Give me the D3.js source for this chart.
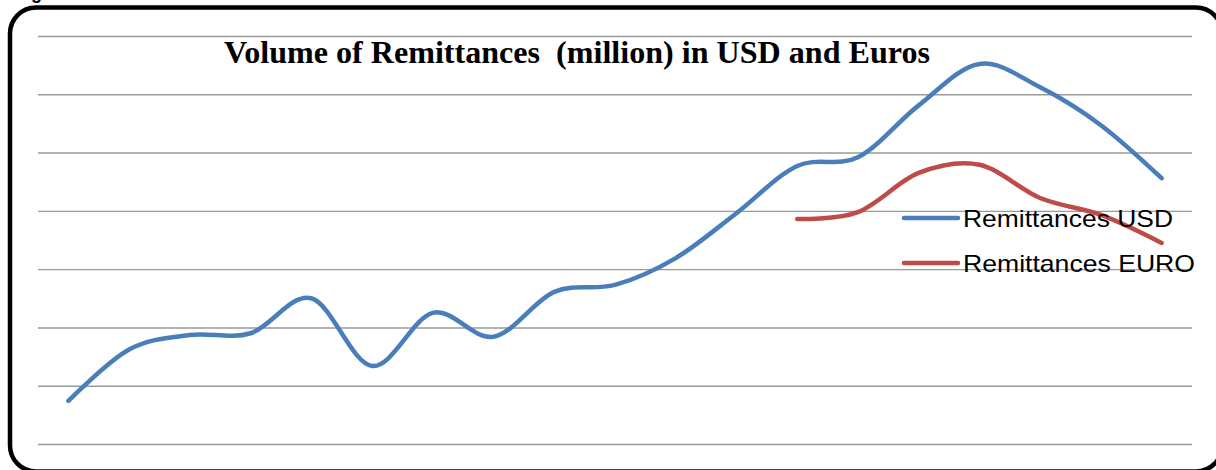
<!DOCTYPE html>
<html>
<head>
<meta charset="utf-8">
<script src="https://cdn.jsdelivr.net/npm/d3@7"></script>
<style>
  html, body { margin: 0; padding: 0; background: #fff; overflow: hidden; }
  svg { display: block; }
  .title { white-space: pre; }
</style>
</head>
<body>
<svg id="chart" width="1216" height="470"></svg>
<script>
// Periods along the horizontal axis (no labels are printed on the chart)
const periods = d3.range(1, 20);

// Remittance volumes (million)
const usdValues  = [0.74, 1.62, 1.87, 1.90, 2.50, 1.34, 2.25, 1.84, 2.61, 2.73,
                    3.19, 3.96, 4.77, 4.92, 5.81, 6.52, 6.12, 5.47, 4.56];
const euroValues = [null, null, null, null, null, null, null, null, null, null,
                    null, null, 3.86, 3.98, 4.65, 4.79, 4.22, 3.93, 3.45];

// Horizontal gridline levels
const gridLevels = [0, 1, 2, 3, 4, 5, 6, 7];

const seriesNames = ["Remittances USD", "Remittances EURO"];
const seriesColors = ["#4a7ebb", "#be4b48"];
const titleText = "Volume of Remittances  (million) in USD and Euros";

const svg = d3.select("#chart");

// Plot area
const plot = { left: 38, right: 1192, top: 36, bottom: 444 };

const x = d3.scalePoint()
  .domain(periods)
  .range([plot.left, plot.right])
  .padding(0.5);

const y = d3.scaleLinear()
  .domain([0, 7])
  .range([plot.bottom, plot.top]);

// Caption fragment above the frame
svg.append("text")
  .attr("x", 31)
  .attr("y", -1)
  .attr("font-family", "Liberation Sans, Arial, sans-serif")
  .attr("font-weight", "bold")
  .attr("font-size", 18)
  .text("g");

// Rounded chart frame
svg.append("rect")
  .attr("x", 10)
  .attr("y", 7.5)
  .attr("width", 1212)
  .attr("height", 464)
  .attr("rx", 26)
  .attr("ry", 26)
  .attr("fill", "none")
  .attr("stroke", "#000")
  .attr("stroke-width", 4.5);

// Gridlines
const gridAxis = d3.axisLeft(y)
  .tickValues(gridLevels)
  .tickSize(-(plot.right - plot.left))
  .tickFormat("");

const gridG = svg.append("g")
  .attr("transform", `translate(${plot.left},0)`)
  .call(gridAxis);
gridG.select(".domain").remove();
gridG.selectAll(".tick line")
  .attr("stroke", "#9a9a9a")
  .attr("stroke-width", 1.4);

// Title
svg.append("text")
  .attr("class", "title")
  .attr("x", 577)
  .attr("y", 63)
  .attr("text-anchor", "middle")
  .attr("font-family", "Liberation Serif, Times New Roman, serif")
  .attr("font-weight", "bold")
  .attr("font-size", 31)
  .attr("textLength", 706)
  .attr("lengthAdjust", "spacingAndGlyphs")
  .text(titleText);

// Smoothed lines
const line = d3.line()
  .defined(d => d.v != null)
  .x(d => x(d.p))
  .y(d => y(d.v))
  .curve(d3.curveCardinal.tension(0));

const seriesData = [usdValues, euroValues].map(vals =>
  periods.map((p, i) => ({ p, v: vals[i] }))
);

svg.selectAll("path.series")
  .data(seriesData)
  .join("path")
  .attr("class", "series")
  .attr("d", d => line(d.filter(e => e.v != null)))
  .attr("fill", "none")
  .attr("stroke", (d, i) => seriesColors[i])
  .attr("stroke-width", 4.5)
  .attr("stroke-linecap", "round")
  .attr("stroke-linejoin", "round");

// Legend
const legend = svg.append("g");
const legendRows = [218, 263];
const legendWidths = [210, 232];

seriesNames.forEach((name, i) => {
  legend.append("line")
    .attr("x1", 904)
    .attr("x2", 958)
    .attr("y1", legendRows[i])
    .attr("y2", legendRows[i])
    .attr("stroke", seriesColors[i])
    .attr("stroke-width", 4.5)
    .attr("stroke-linecap", "round");
  legend.append("text")
    .attr("x", 963)
    .attr("y", legendRows[i] + 9)
    .attr("font-family", "Liberation Sans, Arial, sans-serif")
    .attr("font-size", 24)
    .attr("textLength", legendWidths[i])
    .attr("lengthAdjust", "spacingAndGlyphs")
    .attr("fill", "#000")
    .text(name);
});
</script>
</body>
</html>
